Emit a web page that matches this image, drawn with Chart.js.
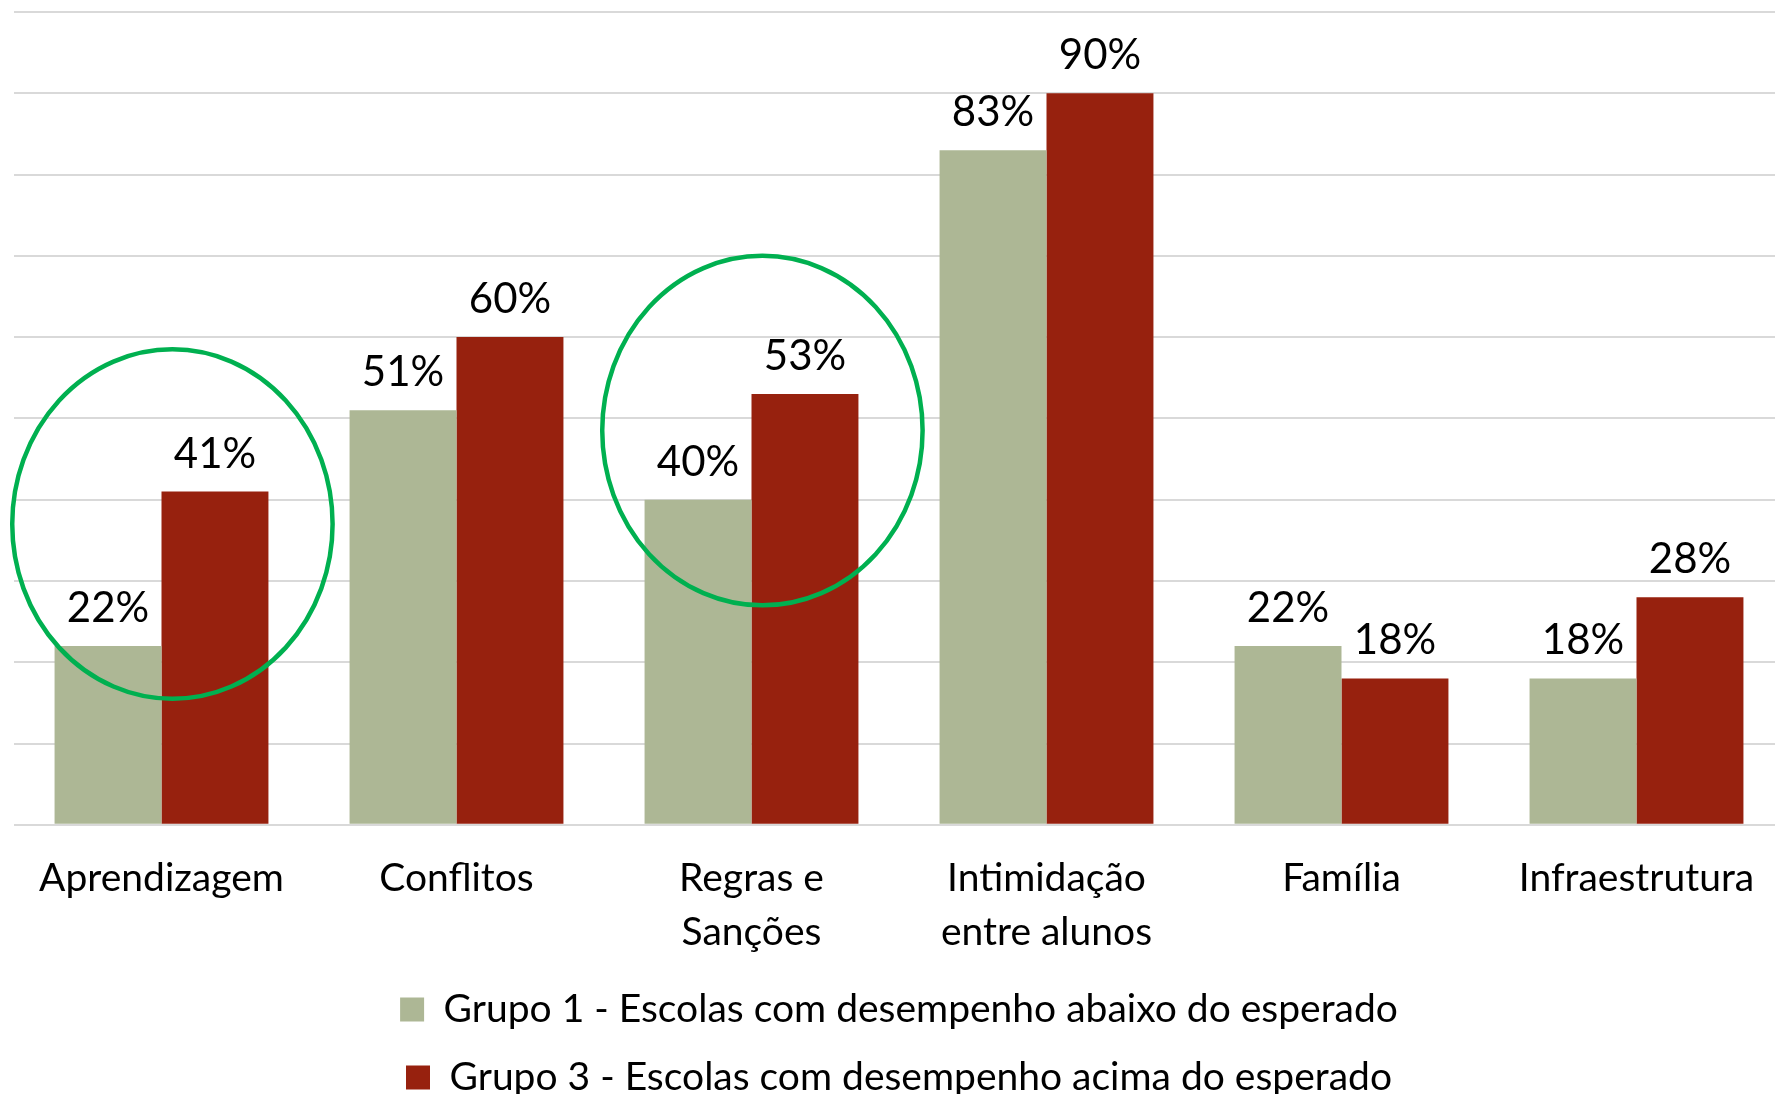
<!DOCTYPE html>
<html>
<head>
<meta charset="utf-8">
<script src="https://cdn.jsdelivr.net/npm/chart.js@4/dist/chart.umd.min.js"></script>
<style>
  html, body { margin: 0; padding: 0; background: #ffffff; overflow: hidden; width: 1775px; height: 1094px; }
  #wrap { position: absolute; left: 0; top: 0; width: 1786px; height: 1107px; }
</style>
</head>
<body>
<div id="wrap"><canvas id="c"></canvas></div>
<script>
// ---- data ----
const categories = [
  'Aprendizagem',
  'Conflitos',
  ['Regras e', 'Sanções'],
  ['Intimidação', 'entre alunos'],
  'Família',
  'Infraestrutura'
];
const seriesNames = [
  'Grupo 1 - Escolas com desempenho abaixo do esperado',
  'Grupo 3 - Escolas com desempenho acima do esperado'
];
const grupo1 = [22, 51, 40, 83, 22, 18];
const grupo3 = [41, 60, 53, 90, 18, 28];
const yTicks = [0, 10, 20, 30, 40, 50, 60, 70, 80, 90, 100];
// highlighted categories (green circles) and the value at which each circle is centred
const highlightIndex = [0, 2];
const highlightCenter = [37, 48.5];

const FONT = 'Lato, "Open Sans", sans-serif';

const valueLabels = {
  id: 'valueLabels',
  afterDatasetsDraw(chart) {
    const ctx = chart.ctx;
    ctx.save();
    ctx.fillStyle = '#000';
    ctx.font = '42px ' + FONT;
    ctx.textAlign = 'center';
    ctx.textBaseline = 'alphabetic';
    chart.data.datasets.forEach((ds, di) => {
      const meta = chart.getDatasetMeta(di);
      meta.data.forEach((bar, i) => {
        ctx.fillText(ds.data[i] + '%', bar.x, bar.y - 24);
      });
    });
    ctx.restore();
  }
};

const highlightCircles = {
  id: 'highlightCircles',
  afterDraw(chart) {
    const ctx = chart.ctx;
    const xs = chart.scales.x, ys = chart.scales.y;
    const catW = xs.getPixelForValue(1) - xs.getPixelForValue(0);
    ctx.save();
    ctx.strokeStyle = '#00b050';
    ctx.lineWidth = 4.5;
    highlightIndex.forEach((ci, k) => {
      const cx = xs.getPixelForValue(ci) + catW * 0.037;
      const cy = ys.getPixelForValue(highlightCenter[k]);
      const rx = catW * 0.543;
      const ry = Math.abs(ys.getPixelForValue(0) - ys.getPixelForValue(21.5));
      ctx.beginPath();
      ctx.ellipse(cx, cy, rx, ry, 0, 0, Math.PI * 2);
      ctx.stroke();
    });
    ctx.restore();
  }
};

new Chart(document.getElementById('c'), {
  type: 'bar',
  data: {
    labels: categories,
    datasets: [
      { label: seriesNames[0], data: grupo1, backgroundColor: '#adb795' },
      { label: seriesNames[1], data: grupo3, backgroundColor: '#97210e' }
    ]
  },
  options: {
    responsive: true,
    maintainAspectRatio: false,
    animation: false,
    events: [],
    layout: { padding: { left: 14, right: 2, top: 12, bottom: 0 } },
    datasets: { bar: { categoryPercentage: 0.725, barPercentage: 1.0 } },
    scales: {
      x: {
        grid: { display: false, drawTicks: false },
        border: { display: false },
        ticks: {
          color: '#000',
          font: { family: FONT, size: 39, lineHeight: 1.4 },
          padding: 26,
          maxRotation: 0,
          autoSkip: false
        },
        afterFit(scale) { scale.height -= 25; }
      },
      y: {
        min: 0, max: 100,
        afterBuildTicks(scale) { scale.ticks = yTicks.map(v => ({ value: v })); },
        grid: { color: '#d9d9d9', lineWidth: 2, drawTicks: false },
        border: { display: false },
        ticks: { display: false }
      }
    },
    plugins: {
      tooltip: { enabled: false },
      legend: {
        position: 'bottom',
        labels: {
          color: '#000',
          font: { family: FONT, size: 39 },
          boxWidth: 24,
          boxHeight: 24,
          padding: 29
        }
      }
    }
  },
  plugins: [valueLabels, highlightCircles]
});
</script>
</body>
</html>
